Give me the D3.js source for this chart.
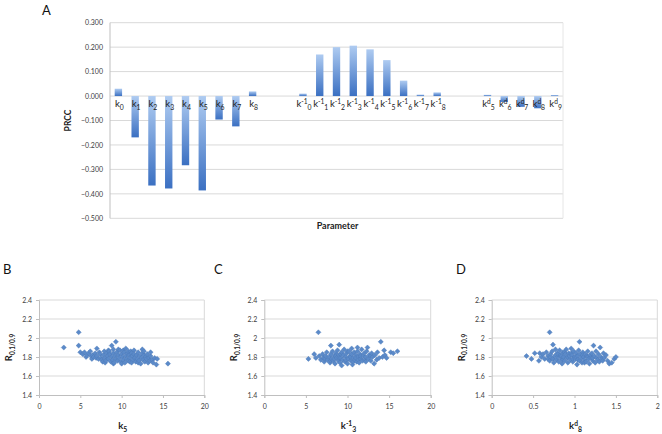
<!DOCTYPE html>
<html><head><meta charset="utf-8">
<script src="https://cdn.jsdelivr.net/npm/d3@7"></script>
<style>
body{margin:0;background:#fff;}
svg{font-family:Lato,"Open Sans","Liberation Sans",sans-serif;}
</style></head>
<body><svg id="c" width="662" height="434"></svg>
<script>
// ---------- DATA ----------
// Panel A categories ("" = empty slot); format base^sup_sub
const categories = ["k_0","k_1","k_2","k_3","k_4","k_5","k_6","k_7","k_8","","",
  "k^-1_0","k^-1_1","k^-1_2","k^-1_3","k^-1_4","k^-1_5","k^-1_6","k^-1_7","k^-1_8","","",
  "k^d_5","k^d_6","k^d_7","k^d_8","k^d_9"];
const prccValues = [0.030,-0.169,-0.366,-0.378,-0.283,-0.386,-0.096,-0.124,0.019,null,null,
  0.010,0.170,0.200,0.206,0.191,0.147,0.063,0.006,0.015,null,null,
  0.005,-0.024,-0.044,-0.050,0.004];
const prccTicks = [0.3,0.2,0.1,0,-0.1,-0.2,-0.3,-0.4,-0.5];

const rTicks = [1.4,1.6,1.8,2,2.2,2.4];
const xTicksB = [0,5,10,15,20];
const xTicksC = [0,5,10,15,20];
const xTicksD = [0,0.5,1,1.5,2];

const pointsB = [[3.0,1.90],[4.8,2.06],[4.8,1.92],[5.0,1.85],[5.3,1.83],[5.5,1.85],[5.7,1.80],[5.8,1.82],[6.0,1.84],[6.2,1.86],[6.3,1.81],[6.4,1.78],[6.5,1.82],[6.6,1.80],[6.8,1.84],[6.9,1.79],[7.0,1.89],[7.0,1.81],[7.2,1.78],[7.3,1.85],[7.4,1.83],[7.5,1.79],[7.6,1.77],[7.7,1.75],[7.8,1.82],[7.9,1.86],[8.0,1.79],[8.0,1.74],[8.1,1.76],[8.2,1.84],[8.3,1.81],[8.4,1.78],[8.4,1.87],[8.5,1.86],[8.6,1.83],[8.7,1.75],[8.8,1.92],[8.8,1.80],[8.9,1.77],[9.0,1.88],[9.0,1.84],[9.0,1.73],[9.1,1.74],[9.2,1.81],[9.3,1.96],[9.3,1.78],[9.4,1.85],[9.5,1.76],[9.6,1.82],[9.6,1.88],[9.7,1.79],[9.8,1.87],[9.9,1.75],[10.0,1.83],[10.0,1.73],[10.1,1.80],[10.2,1.77],[10.2,1.87],[10.3,1.85],[10.4,1.74],[10.5,1.89],[10.5,1.81],[10.6,1.78],[10.7,1.84],[10.8,1.76],[10.8,1.86],[10.9,1.82],[11.0,1.79],[11.0,1.75],[11.1,1.86],[11.2,1.74],[11.2,1.84],[11.3,1.81],[11.4,1.77],[11.5,1.87],[11.5,1.83],[11.6,1.79],[11.7,1.75],[11.8,1.82],[11.9,1.78],[12.0,1.85],[12.0,1.74],[12.1,1.76],[12.2,1.81],[12.3,1.73],[12.4,1.79],[12.5,1.88],[12.5,1.84],[12.6,1.77],[12.7,1.82],[12.7,1.86],[12.8,1.75],[12.9,1.80],[13.0,1.78],[13.1,1.83],[13.2,1.74],[13.3,1.79],[13.4,1.76],[13.5,1.81],[13.5,1.85],[13.7,1.77],[13.8,1.74],[14.0,1.79],[14.2,1.72],[14.3,1.78],[15.6,1.73]];

const pointsC = [[5.3,1.78],[6.0,1.83],[6.2,1.79],[6.5,2.06],[6.6,1.81],[6.8,1.77],[7.0,1.83],[7.1,1.79],[7.2,1.75],[7.3,1.78],[7.4,1.81],[7.5,1.85],[7.6,1.77],[7.8,1.80],[7.9,1.74],[8.0,1.92],[8.0,1.83],[8.0,1.76],[8.1,1.78],[8.2,1.86],[8.3,1.76],[8.4,1.81],[8.4,1.78],[8.5,1.73],[8.6,1.84],[8.6,1.81],[8.7,1.79],[8.8,1.87],[8.9,1.76],[9.0,1.93],[9.0,1.82],[9.0,1.79],[9.1,1.74],[9.2,1.79],[9.2,1.83],[9.3,1.71],[9.3,1.85],[9.4,1.77],[9.5,1.82],[9.6,1.88],[9.7,1.75],[9.8,1.80],[9.8,1.77],[9.9,1.84],[10.0,1.73],[10.0,1.86],[10.1,1.78],[10.2,1.86],[10.3,1.81],[10.4,1.76],[10.4,1.80],[10.5,1.89],[10.5,1.83],[10.6,1.72],[10.7,1.79],[10.7,1.75],[10.8,1.85],[10.9,1.77],[11.0,1.82],[11.0,1.79],[11.1,1.75],[11.2,1.90],[11.2,1.86],[11.3,1.80],[11.3,1.77],[11.4,1.74],[11.5,1.83],[11.6,1.78],[11.6,1.81],[11.7,1.88],[11.8,1.76],[11.9,1.81],[12.0,1.84],[12.1,1.77],[12.2,1.80],[12.2,1.75],[12.3,1.86],[12.4,1.90],[12.5,1.78],[12.6,1.82],[12.8,1.76],[12.8,1.81],[12.9,1.84],[13.0,1.80],[13.2,1.73],[13.3,1.82],[13.5,1.77],[13.6,1.85],[13.8,1.79],[14.0,1.96],[14.2,1.80],[14.4,1.87],[14.5,1.82],[14.7,1.79],[15.2,1.85],[15.5,1.84],[16.0,1.86]];

const pointsD = [[0.42,1.81],[0.48,1.78],[0.52,1.84],[0.57,1.76],[0.58,1.84],[0.60,1.80],[0.62,1.83],[0.64,1.78],[0.66,1.85],[0.68,1.81],[0.68,1.78],[0.70,2.06],[0.70,1.76],[0.71,1.83],[0.72,1.79],[0.73,1.86],[0.74,1.93],[0.74,1.78],[0.75,1.74],[0.76,1.81],[0.77,1.88],[0.78,1.77],[0.79,1.84],[0.80,1.80],[0.80,1.83],[0.81,1.75],[0.82,1.87],[0.83,1.82],[0.84,1.78],[0.84,1.81],[0.85,1.73],[0.86,1.85],[0.86,1.77],[0.87,1.80],[0.88,1.76],[0.88,1.85],[0.89,1.83],[0.90,1.88],[0.91,1.79],[0.92,1.74],[0.92,1.80],[0.93,1.84],[0.94,1.81],[0.95,1.77],[0.96,1.89],[0.96,1.84],[0.97,1.82],[0.98,1.75],[0.98,1.78],[0.99,1.86],[1.00,1.80],[1.01,1.78],[1.02,1.84],[1.02,1.80],[1.03,1.72],[1.04,1.81],[1.04,1.77],[1.05,1.87],[1.06,1.96],[1.06,1.76],[1.07,1.83],[1.08,1.79],[1.09,1.74],[1.10,1.85],[1.10,1.82],[1.11,1.80],[1.12,1.77],[1.12,1.74],[1.13,1.83],[1.14,1.75],[1.15,1.81],[1.16,1.86],[1.16,1.80],[1.17,1.78],[1.18,1.73],[1.19,1.82],[1.20,1.79],[1.21,1.84],[1.22,1.76],[1.22,1.79],[1.23,1.92],[1.24,1.81],[1.25,1.74],[1.26,1.86],[1.27,1.79],[1.28,1.77],[1.29,1.83],[1.30,1.75],[1.31,1.90],[1.32,1.80],[1.33,1.78],[1.34,1.76],[1.35,1.84],[1.36,1.79],[1.38,1.82],[1.40,1.76],[1.42,1.73],[1.45,1.74],[1.48,1.78],[1.50,1.80]];

// ---------- DRAW ----------
const svg = d3.select("#c");
const gridCol = "#d9d9d9", axisCol = "#bfbfbf", tickTxt = "#404040";

const defs = svg.append("defs");
const grad = defs.append("linearGradient").attr("id","barGrad")
  .attr("x1",0).attr("y1",0).attr("x2",0).attr("y2",1);
grad.append("stop").attr("offset","0%").attr("stop-color","#aecbf1");
grad.append("stop").attr("offset","100%").attr("stop-color","#3b70c2");

function parseLabel(s){
  const m = s.match(/^([^\^_]+)(?:\^([^_]+))?(?:_(.+))?$/);
  return {base:m[1], sup:m[2]||null, sub:m[3]||null};
}
function richLabel(sel, s, size, bold){
  const p = parseLabel(s);
  const t = sel.append("text").attr("font-size",size).attr("font-weight",bold?"bold":"normal");
  t.append("tspan").text(p.base);
  let dy = 0;
  if (p.sup){ t.append("tspan").attr("font-size",size*0.7).attr("dy",-size*0.35).text(p.sup); dy = -size*0.35; }
  if (p.sub){ t.append("tspan").attr("font-size",size*0.72).attr("dy",size*0.35 - dy).text(p.sub); }
  return t;
}

// ---- Panel A ----
const A = {left:110, right:563, top:22.7, bottom:218.3};
const xA = d3.scaleBand().domain(d3.range(categories.length)).range([A.left, A.right]).paddingInner(0.56).paddingOuter(0.28);
const yA = d3.scaleLinear().domain([-0.5,0.3]).range([A.bottom, A.top]);
const gA = svg.append("g");

gA.append("g").selectAll("line").data(prccTicks).join("line")
  .attr("x1",A.left).attr("x2",A.right).attr("y1",d=>yA(d)).attr("y2",d=>yA(d))
  .attr("stroke",gridCol).attr("stroke-width",1);
gA.append("line").attr("x1",A.left).attr("x2",A.left).attr("y1",A.top).attr("y2",A.bottom).attr("stroke",axisCol);
gA.append("line").attr("x1",A.right).attr("x2",A.right).attr("y1",A.top).attr("y2",A.bottom).attr("stroke","#e6e6e6");

const yAxisA = d3.axisLeft(yA).tickValues(prccTicks).tickFormat(d3.format(".3f")).tickSize(0).tickPadding(7);
gA.append("g").attr("transform",`translate(${A.left},0)`).call(yAxisA)
  .call(g=>g.select(".domain").remove())
  .selectAll("text").attr("font-size",7).attr("fill",tickTxt).attr("font-family","Lato,sans-serif");

const barData = categories.map((c,i)=>({c, i, v:prccValues[i]})).filter(d=>d.v!==null);
gA.append("g").selectAll("rect").data(barData).join("rect")
  .attr("x",d=>xA(d.i)).attr("width",xA.bandwidth())
  .attr("y",d=>yA(Math.max(0,d.v))).attr("height",d=>Math.abs(yA(d.v)-yA(0)))
  .attr("fill","url(#barGrad)");

const labA = gA.append("g");
barData.forEach(d=>{
  const t = richLabel(labA, d.c, 9.5, false);
  t.attr("x", xA(d.i)+xA.bandwidth()/2+1).attr("y", 107).attr("text-anchor","middle").attr("fill","#222");
});

gA.append("text").attr("transform",`translate(71,120.5) rotate(-90)`).attr("text-anchor","middle")
  .attr("font-size",8.5).attr("font-weight","bold").attr("fill","#222").text("PRCC");
gA.append("text").attr("x",(A.left+A.right)/2+1).attr("y",229).attr("text-anchor","middle")
  .attr("font-size",9).attr("font-weight","bold").attr("fill","#222").text("Parameter");
svg.append("text").attr("x",42).attr("y",14.5).attr("font-size",13).attr("fill","#111").text("A");

// ---- Scatter panels ----
const panels = [
  {letter:"B", lx:3,   left:39,    right:204.3, xmax:20, ticks:xTicksB, pts:pointsB, title:"k_5"},
  {letter:"C", lx:214, left:264.3, right:430.7, xmax:20, ticks:xTicksC, pts:pointsC, title:"k^-1_3"},
  {letter:"D", lx:456, left:491.7, right:657.3, xmax:2,  ticks:xTicksD, pts:pointsD, title:"k^d_8"}
];
const S = {top:300, bottom:395};
const marker = d3.symbol().type(d3.symbolSquare).size(13);

panels.forEach(p=>{
  const g = svg.append("g");
  const x = d3.scaleLinear().domain([0,p.xmax]).range([p.left,p.right]);
  const y = d3.scaleLinear().domain([1.4,2.4]).range([S.bottom,S.top]);
  g.append("g").selectAll("line").data(rTicks.slice(1)).join("line")
    .attr("x1",p.left).attr("x2",p.right).attr("y1",d=>y(d)).attr("y2",d=>y(d)).attr("stroke",gridCol);
  g.append("line").attr("x1",p.right).attr("x2",p.right).attr("y1",S.top).attr("y2",S.bottom).attr("stroke",gridCol);
  const yAx = d3.axisLeft(y).tickValues(rTicks).tickFormat(d=>String(d)).tickSize(3).tickPadding(4);
  g.append("g").attr("transform",`translate(${p.left},0)`).call(yAx)
    .call(s=>s.select(".domain").attr("stroke",axisCol))
    .call(s=>s.selectAll(".tick line").attr("stroke",axisCol))
    .selectAll("text").attr("font-size",7).attr("fill",tickTxt).attr("font-family","Lato,sans-serif");
  const xAx = d3.axisBottom(x).tickValues(p.ticks).tickFormat(d=>String(d)).tickSize(3).tickPadding(6);
  g.append("g").attr("transform",`translate(0,${S.bottom})`).call(xAx)
    .call(s=>s.select(".domain").attr("stroke",axisCol))
    .call(s=>s.selectAll(".tick line").attr("stroke",axisCol))
    .selectAll("text").attr("font-size",7).attr("fill",tickTxt).attr("font-family","Lato,sans-serif");
  g.append("g").selectAll("path").data(p.pts).join("path")
    .attr("d",marker).attr("transform",d=>`translate(${x(d[0])},${y(d[1])}) rotate(45)`)
    .attr("fill","#5b8ac9").attr("stroke","#4a78b5").attr("stroke-width",0.4);
  // x title
  const t = richLabel(g, p.title, 9.5, true);
  t.attr("x",(p.left+p.right)/2+1).attr("y",429).attr("text-anchor","middle").attr("fill","#222");
  // y title
  const yt = g.append("text").attr("transform",`translate(${p.left-27},${(S.top+S.bottom)/2}) rotate(-90)`)
    .attr("text-anchor","middle").attr("font-weight","bold").attr("fill","#222");
  yt.append("tspan").attr("font-size",9.5).text("R");
  yt.append("tspan").attr("font-size",6.5).attr("dy",2.5).text("0.1/0.9");
  svg.append("text").attr("x",p.lx).attr("y",273.5).attr("font-size",13).attr("fill","#111").text(p.letter);
});
</script></body></html>
